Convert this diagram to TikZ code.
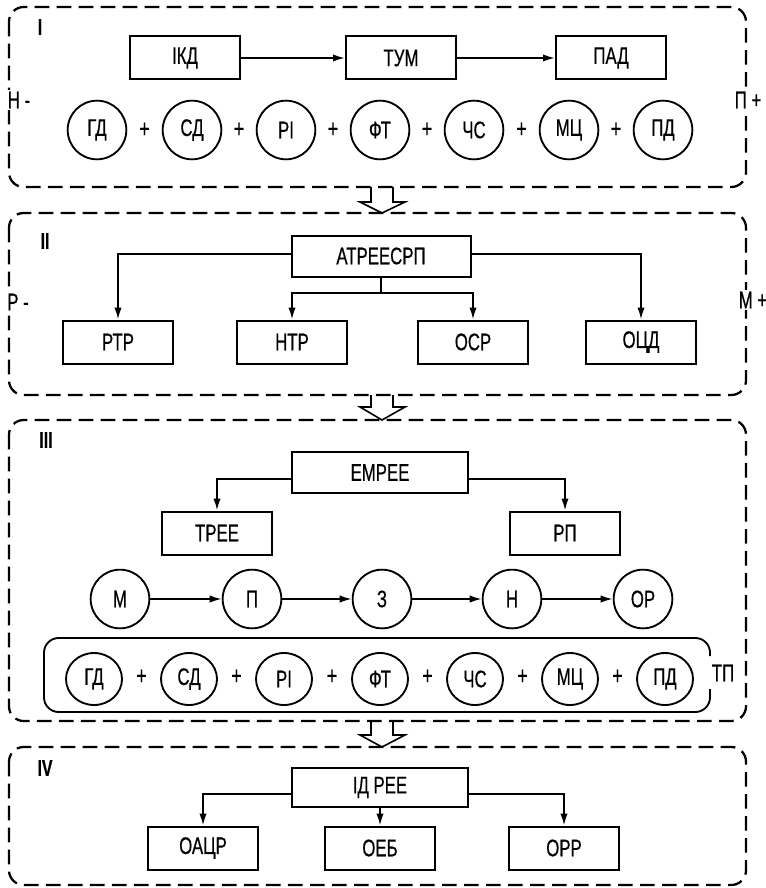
\documentclass[tikz,border=0pt]{standalone}
\usepackage{fontspec}
\setmainfont{Liberation Sans}[FakeStretch=0.7, FakeBold=0.5]
\usetikzlibrary{arrows.meta,shapes.geometric}
\tikzset{
  frame/.style={draw, line width=1.7pt, dash pattern=on 11pt off 5.5pt, rounded corners=11pt},
  bx/.style={draw, line width=1.5pt, minimum width=82.5pt, minimum height=32.25pt, inner sep=0pt, font=\fontsize{18}{20}\selectfont},
  cc/.style={draw, circle, line width=1.4pt, minimum size=44pt, inner sep=0pt, font=\fontsize{18}{20}\selectfont},
  ee/.style={draw, ellipse, line width=1.4pt, minimum width=42pt, minimum height=39pt, inner sep=0pt, font=\fontsize{18}{20}\selectfont},
  pl/.style={inner sep=0pt, font=\fontsize{19}{20}\selectfont},
  num/.style={inner sep=0pt, font=\bfseries\fontsize{17}{19}\selectfont},
  side/.style={fill=white, inner sep=1pt, font=\fontsize{18}{20}\selectfont},
  conn/.style={line width=1.3pt, -{Latex[length=9pt,width=5.5pt]}},
  ln/.style={line width=1.3pt},
  hollow/.style={line width=1.2pt, line join=miter}
}
\begin{document}
\begin{tikzpicture}[x=0.75pt,y=-0.75pt]
\useasboundingbox (0,0) rectangle (766,888);

% ---------- frames ----------
\draw[frame] (9,7) rectangle (746,187);
\draw[frame] (9,213) rectangle (746,395);
\draw[frame] (9,420) rectangle (746,721);
\draw[frame] (9,747) rectangle (746,885);

% ---------- hollow arrows ----------
\draw[hollow] (371,187) -- (371,202) -- (360,202) -- (382,213) -- (405,202) -- (393,202) -- (393,187);
\draw[hollow] (371,395) -- (371,407) -- (360,407) -- (382,420) -- (405,407) -- (393,407) -- (393,395);
\draw[hollow] (371,721) -- (371,735) -- (360,735) -- (382,747) -- (405,735) -- (393,735) -- (393,721);

% ---------- block I ----------
\node[num] (n1) at (40,27) {I};
\node[side] (hm) at (19,100) {Н -};
\node[side] (pp) at (748,100) {П +};
\node[bx] (ikd) at (185,58) {ІКД};
\node[bx] (tum) at (401,58) {ТУМ};
\node[bx] (pad) at (611,58) {ПАД};
\draw[conn] (ikd) -- (tum);
\draw[conn] (tum) -- (pad);

\node[cc] (a1) at (97,130) {ГД};
\node[cc] (a2) at (192,130) {СД};
\node[cc] (a3) at (286,130) {РІ};
\node[cc] (a4) at (380,130) {ФТ};
\node[cc] (a5) at (474,130) {ЧС};
\node[cc] (a6) at (569,130) {МЦ};
\node[cc] (a7) at (663,130) {ПД};
\node[pl] (p1) at (144.5,130) {+};
\node[pl] (p2) at (239,130) {+};
\node[pl] (p3) at (333,130) {+};
\node[pl] (p4) at (427,130) {+};
\node[pl] (p5) at (521.5,130) {+};
\node[pl] (p6) at (616,130) {+};

% ---------- block II ----------
\node[num] (n2) at (45,241) {II};
\node[side] (rm) at (18,302) {Р -};
\node[side] (mp) at (753,300) {М +};
\node[bx, minimum width=134.25pt, minimum height=30.75pt] (atp) at (381,256) {АТРЕЕСРП};
\node[bx] (rtr) at (118,342) {РТР};
\node[bx] (ntr) at (292,342) {НТР};
\node[bx] (osr) at (473,342) {ОСР};
\node[bx] (ocd) at (641,342) {ОЦД};
\coordinate (mid) at (381,293);
\draw[conn] ([yshift=1.5pt]atp.west) -| (rtr.north);
\draw[conn] ([yshift=1.5pt]atp.east) -| (ocd.north);
\draw[ln] (atp.south) -- (mid);
\draw[conn] (mid) -| (ntr.north);
\draw[conn] (mid) -| (osr.north);

% ---------- block III ----------
\node[num] (n3) at (46,440) {III};
\node[bx, minimum width=132pt, minimum height=30.75pt] (emp) at (380,472.5) {ЕМРЕЕ};
\node[bx] (tree) at (217,533) {ТРЕЕ};
\node[bx] (rp) at (565,533) {РП};
\draw[conn] ([yshift=-5pt]emp.west) -| (tree.north);
\draw[conn] ([yshift=-5pt]emp.east) -| (rp.north);

\node[cc] (m) at (120,599) {М};
\node[cc] (pi) at (252,599) {П};
\node[cc] (z) at (382,599) {З};
\node[cc] (h) at (512,599) {Н};
\node[cc] (op) at (643,599) {ОР};
\draw[conn] (m) -- (pi);
\draw[conn] (pi) -- (z);
\draw[conn] (z) -- (h);
\draw[conn] (h) -- (op);

\draw[line width=1.4pt, rounded corners=11pt] (710,656) -- (710,638) -- (44,638) -- (44,712) -- (710,712) -- (710,689);
\node[pl, font=\fontsize{18}{20}\selectfont] (tp) at (723,673) {ТП};
\node[ee] (b1) at (94,679) {ГД};
\node[ee] (b2) at (189,679) {СД};
\node[ee] (b3) at (284,679) {РІ};
\node[ee] (b4) at (380,679) {ФТ};
\node[ee] (b5) at (475,679) {ЧС};
\node[ee] (b6) at (570,679) {МЦ};
\node[ee] (b7) at (665,679) {ПД};
\node[pl] (q1) at (141.5,677) {+};
\node[pl] (q2) at (236.5,677) {+};
\node[pl] (q3) at (332,677) {+};
\node[pl] (q4) at (427.5,677) {+};
\node[pl] (q5) at (522.5,677) {+};
\node[pl] (q6) at (617.5,677) {+};

% ---------- block IV ----------
\node[num] (n4) at (45,768) {IV};
\node[bx, minimum width=132pt, minimum height=29.25pt] (idr) at (380,787.5) {ІД РЕЕ};
\node[bx] (oacr) at (203,848) {ОАЦР};
\node[bx] (oeb) at (380,848) {ОЕБ};
\node[bx] (orr) at (564,848) {ОРР};
\draw[conn] ([yshift=-5pt]idr.west) -| (oacr.north);
\draw[conn] ([yshift=-5pt]idr.east) -| (orr.north);
\draw[conn] (idr.south) -- (oeb.north);
\end{tikzpicture}
\end{document}
